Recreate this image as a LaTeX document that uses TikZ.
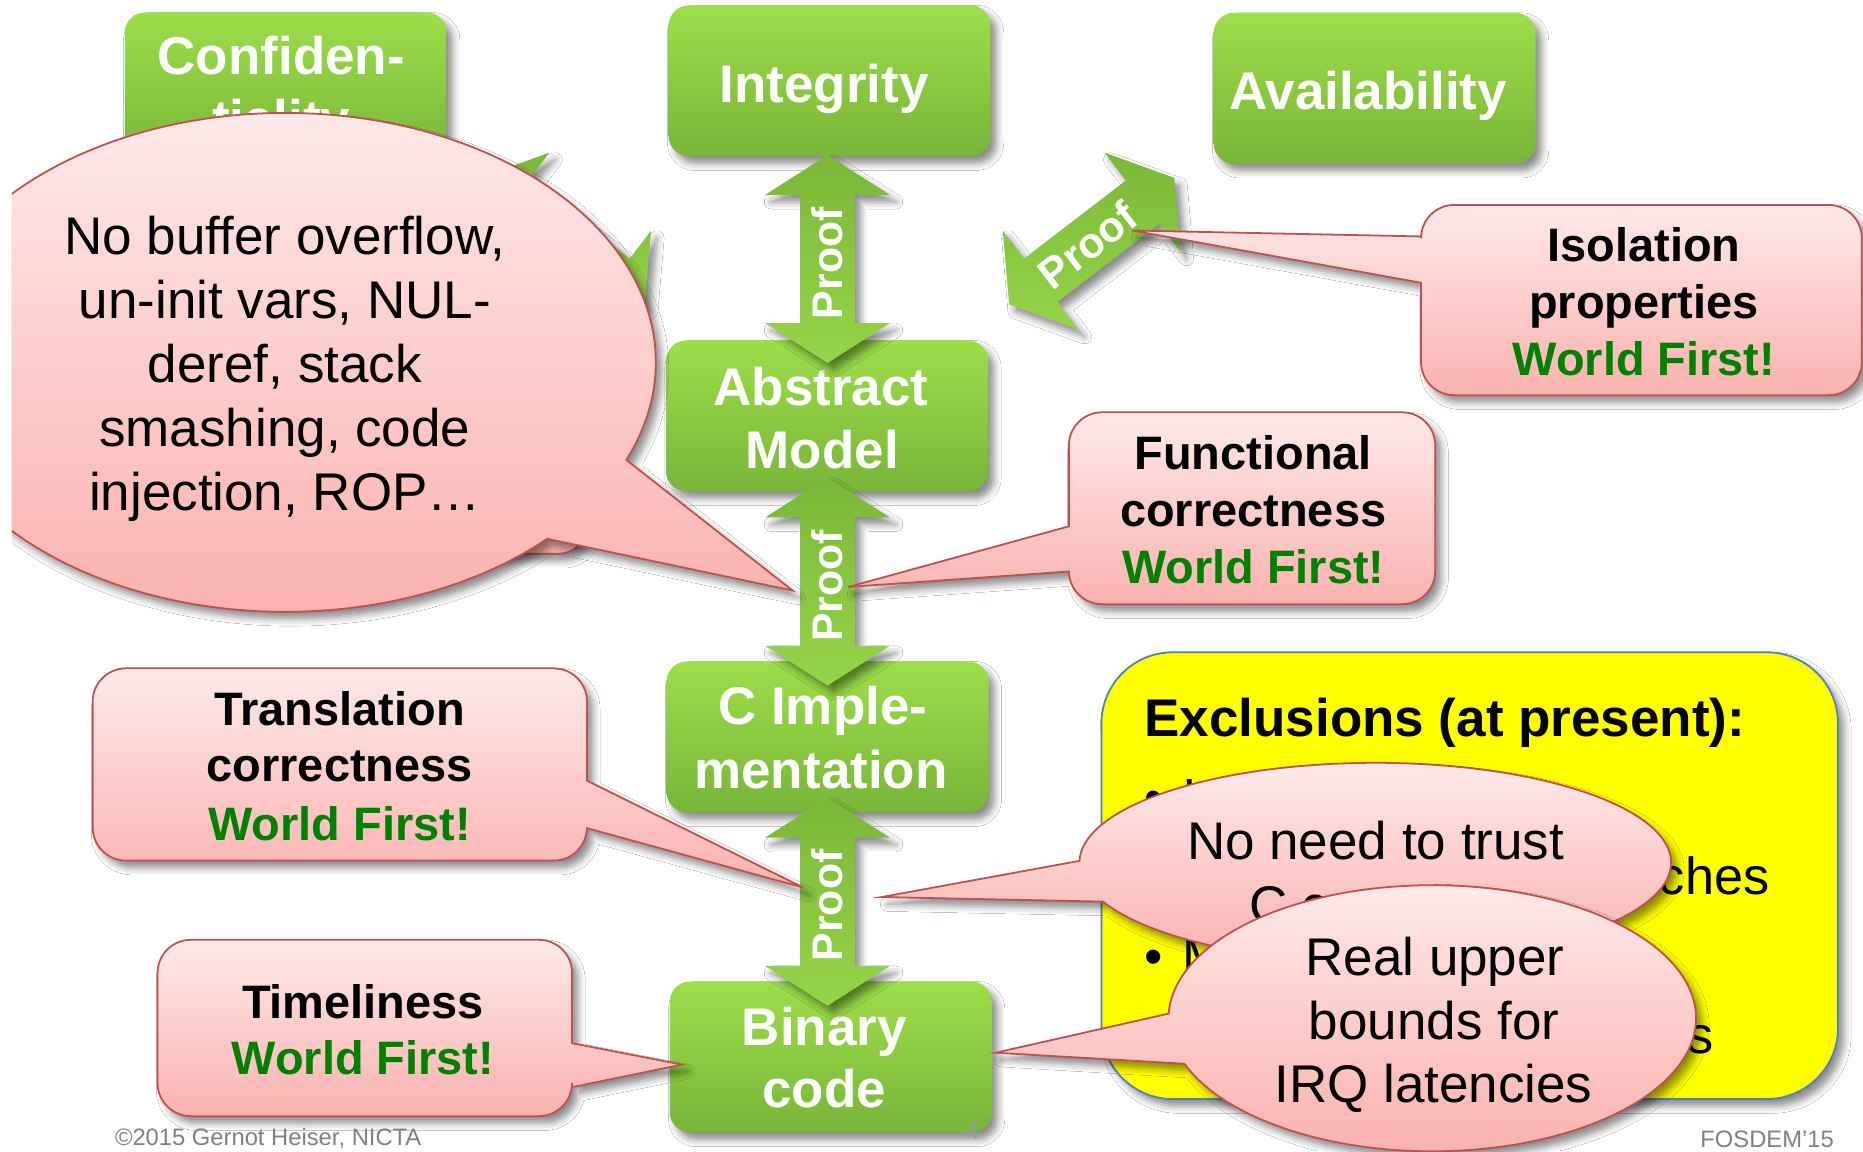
\documentclass[tikz,border=0pt]{standalone}
\usepackage{fontspec}
\setmainfont{Liberation Sans}
\usetikzlibrary{shadows.blur}

\definecolor{gTop}{RGB}{157,222,74}
\definecolor{gBot}{RGB}{121,181,57}
\definecolor{aTop}{RGB}{124,184,56}
\definecolor{aBot}{RGB}{150,212,74}
\definecolor{pTop}{RGB}{254,233,233}
\definecolor{pBot}{RGB}{250,178,175}
\definecolor{pLine}{RGB}{192,80,77}
\definecolor{wfGreen}{RGB}{0,128,0}
\definecolor{exYellow}{RGB}{255,255,0}
\definecolor{exLine}{RGB}{79,129,189}
\definecolor{footGray}{RGB}{128,128,128}

\tikzset{
  softshadow/.style={blur shadow={shadow xshift=5pt, shadow yshift=-6pt,
      shadow blur radius=6pt, shadow opacity=45}},
  gbox/.style={rectangle, rounded corners=17, minimum width=271,
      minimum height=127, inner sep=0, top color=gTop, bottom color=gBot,
      softshadow},
  gtxt/.style={font=\bfseries\fontsize{44.6}{53}\selectfont, text=white,
      inner sep=0, anchor=base},
  arrowfill/.style={top color=aTop, bottom color=aBot, softshadow},
  prooftxt/.style={font=\bfseries\fontsize{36}{40}\selectfont, text=white,
      inner sep=0},
  callout/.style={top color=pTop, bottom color=pBot, draw=pLine,
      line width=1.5, softshadow},
  ctxt/.style={font=\bfseries\fontsize{39.5}{47}\selectfont, text=black,
      inner sep=0, anchor=base},
  wftxt/.style={ctxt, text=wfGreen},
  btxt/.style={font=\fontsize{44.6}{54}\selectfont, text=black,
      inner sep=0, anchor=base},
  exbox/.style={rectangle, rounded corners=60, minimum width=620,
      minimum height=376, inner sep=0, fill=exYellow, draw=exLine,
      line width=1.5, softshadow},
  extitle/.style={font=\bfseries\fontsize{44.6}{53}\selectfont,
      inner sep=0, anchor=base west},
  extxt/.style={font=\fontsize{44}{53}\selectfont, inner sep=0,
      anchor=base west},
  foottxt/.style={font=\fontsize{20}{24}\selectfont, text=footGray,
      inner sep=0},
}

% corner radius and Bezier control offset of the rounded callouts
\newcommand\callrad{28}
\newcommand\callctl{12.5}

% double-headed block arrow: centre x, centre y, angle, name
\newcommand\garrow[4]{%
  \foreach \s/\w [count=\i] in {-87.5/0, -54/52.5, -54/23, 54/23, 54/52.5,
      87.5/0, 54/-52.5, 54/-23, -54/-23, -54/-52.5}
    \coordinate (#4-\i) at ({#1+(\s)*cos(#3)+(\w)*sin(#3)},
                           {#2-(\s)*sin(#3)+(\w)*cos(#3)});
  \path[arrowfill] (#4-1) -- (#4-2) -- (#4-3) -- (#4-4) -- (#4-5) -- (#4-6)
    -- (#4-7) -- (#4-8) -- (#4-9) -- (#4-10) -- cycle;}

% rounded callout, wedge on the left side:
% x1, y1, x2, y2, upper wedge base y, lower wedge base y, tip x, tip y
\newcommand\leftcallout[8]{%
  \path[callout] (#1,#5) -- (#7,#8) -- (#1,#6) -- (#1,{#4-\callrad})
   .. controls (#1,{#4-\callctl}) and ({#1+\callctl},#4) .. ({#1+\callrad},#4)
   -- ({#3-\callrad},#4)
   .. controls ({#3-\callctl},#4) and (#3,{#4-\callctl}) .. (#3,{#4-\callrad})
   -- (#3,{#2+\callrad})
   .. controls (#3,{#2+\callctl}) and ({#3-\callctl},#2) .. ({#3-\callrad},#2)
   -- ({#1+\callrad},#2)
   .. controls ({#1+\callctl},#2) and (#1,{#2+\callctl}) .. (#1,{#2+\callrad})
   -- cycle;}

% rounded callout, wedge on the right side (same arguments)
\newcommand\rightcallout[8]{%
  \path[callout] (#3,#5) -- (#7,#8) -- (#3,#6) -- (#3,{#4-\callrad})
   .. controls (#3,{#4-\callctl}) and ({#3-\callctl},#4) .. ({#3-\callrad},#4)
   -- ({#1+\callrad},#4)
   .. controls ({#1+\callctl},#4) and (#1,{#4-\callctl}) .. (#1,{#4-\callrad})
   -- (#1,{#2+\callrad})
   .. controls (#1,{#2+\callctl}) and ({#1+\callctl},#2) .. ({#1+\callrad},#2)
   -- ({#3-\callrad},#2)
   .. controls ({#3-\callctl},#2) and (#3,{#2+\callctl}) .. (#3,{#2+\callrad})
   -- cycle;}

% elliptic speech bubble: cx, cy, rx, ry, wedge start angle, wedge end angle, tip x, tip y
\newcommand\ellcallout[8]{%
  \path[callout] ({#1+#3*cos(#5)},{#2+#4*sin(#5)}) -- (#7,#8)
    -- ({#1+#3*cos(#6)},{#2+#4*sin(#6)})
    -- plot[domain=#6:#5+360, samples=160, variable=\t]
       ({#1+#3*cos(\t)},{#2+#4*sin(\t)}) -- cycle;}

\begin{document}
\begin{tikzpicture}[x=1pt,y=-1pt]
\useasboundingbox (0,0) rectangle (1568,969);
\fill[white] (0,0) rectangle (1568,969);

% ---- security properties and refinement levels ----
\node[gbox] (conf)   at (240.5,74)   {};
\node[gbox] (integ)  at (698.3,68)   {};
\node[gbox] (avail)  at (1157,74.3)  {};
\node[gbox] (abstr)  at (696.1,350)  {};
\node[gbox] (cimpl)  at (696.5,620.2) {};
\node[gbox] (binary) at (699.2,889.6) {};

\node[gtxt] (conf-a)   at (236.7,63)  {Confiden-};
\node[gtxt] (conf-b)   at (236.7,116) {tiality};
\node[gtxt] (integ-a)  at (693.6,86)  {Integrity};
\node[gtxt] (avail-a)  at (1151.5,92) {Availability};
\node[gtxt] (abstr-a)  at (691,341)   {Abstract};
\node[gtxt] (abstr-b)  at (692,394)   {Model};
\node[gtxt] (cimpl-a)  at (692.5,610) {C Imple-};
\node[gtxt] (cimpl-b)  at (691,664)   {mentation};
\node[gtxt] (binary-a) at (693.8,880) {Binary};
\node[gtxt] (binary-b) at (693.8,932) {code};

\node[font=\fontsize{22}{24}\selectfont, text=footGray!80, inner sep=0,
      anchor=base] (pageno) at (818.5,959) {4};

% ---- proof arrows ----
\garrow{473.2}{203}{-37.5}{pconf}
\garrow{918.8}{203}{37.5}{pavail}
\node[prooftxt, rotate=37.5] (pavail-t) at (915.2,206.2) {Proof};
\garrow{696.5}{218}{90}{pinteg}
\node[prooftxt, rotate=90] (pinteg-t) at (696.5,221.5) {Proof};
\garrow{696.5}{489.5}{90}{pfunc}
\node[prooftxt, rotate=90] (pfunc-t) at (696.5,493) {Proof};
\garrow{696.5}{759}{90}{ptrans}
\node[prooftxt, rotate=90] (ptrans-t) at (696.5,762) {Proof};

% ---- exclusions ----
\node[exbox] (excl) at (1237,737) {};
\node[extitle] (excl-t) at (963,620) {Exclusions (at present):};
\node[extxt] (excl-d1) at (963,686) {•};
\node[extxt] (excl-l1) at (995,686) {Initialisation};
\node[extxt] (excl-d2) at (963,753) {•};
\node[extxt] (excl-l2) at (995,753) {Privileged state \& caches};
\node[extxt] (excl-d3) at (963,820) {•};
\node[extxt] (excl-l3) at (995,820) {Multicore};
\node[extxt] (excl-d4) at (963,887) {•};
\node[extxt] (excl-l4) at (995,887) {Covert timing channels};

% ---- result callouts ----
\leftcallout{1196}{172.5}{1567}{332.6}{199}{238}{953}{194}
\node[ctxt]  (iso-a) at (1383.6,220) {Isolation};
\node[ctxt]  (iso-b) at (1383.6,268) {properties};
\node[wftxt] (iso-c) at (1383.6,316) {World First!};

\leftcallout{899.6}{347}{1208}{508.5}{443}{481}{714}{494}
\node[ctxt]  (func-a) at (1054.8,395) {Functional};
\node[ctxt]  (func-b) at (1054.8,443) {correctness};
\node[wftxt] (func-c) at (1054.8,491) {World First!};

\rightcallout{78}{562.5}{494}{724.3}{657}{697}{676}{747}
\node[ctxt]  (trans-a) at (285.9,611) {Translation};
\node[ctxt]  (trans-b) at (285.9,658) {correctness};
\node[wftxt] (trans-c) at (285.9,707) {World First!};

\rightcallout{132.6}{791}{481.5}{939.4}{878}{915}{574}{896}
\node[ctxt]  (time-a) at (305.5,857) {Timeliness};
\node[wftxt] (time-b) at (305.5,904) {World First!};

% ---- speech bubbles ----
\begin{scope}
  \clip (10,0) rectangle (1568,969);
  \path[callout, rounded corners=25] (60,330) rectangle (495,466);
  \ellcallout{240}{305}{312}{210}{23}{45}{667}{497}
\end{scope}
\node[btxt] (buf-a) at (239.8,214.6) {No buffer overflow,};
\node[btxt] (buf-b) at (239.8,268)   {un-init vars, NUL-};
\node[btxt] (buf-c) at (239.8,322)   {deref, stack};
\node[btxt] (buf-d) at (239.8,376)   {smashing, code};
\node[btxt] (buf-e) at (239.8,430)   {injection, ROP…};

\ellcallout{1157.5}{726}{249}{84}{157}{181}{742}{755}
\node[btxt] (cc-a) at (1157.8,723) {No need to trust};
\node[btxt] (cc-b) at (1157.8,777) {C compiler};

\ellcallout{1205.5}{857}{222}{112}{160}{182}{838}{886}
\node[btxt] (irq-a) at (1207.8,821) {Real upper};
\node[btxt] (irq-b) at (1207,875)   {bounds for};
\node[btxt] (irq-c) at (1206.5,928) {IRQ latencies};

% ---- footer ----
\node[foottxt, anchor=base west] (copy) at (96.6,964) {©2015 Gernot Heiser, NICTA};
\node[foottxt, anchor=base east] (event) at (1543.6,966) {FOSDEM'15};
\end{tikzpicture}
\end{document}
